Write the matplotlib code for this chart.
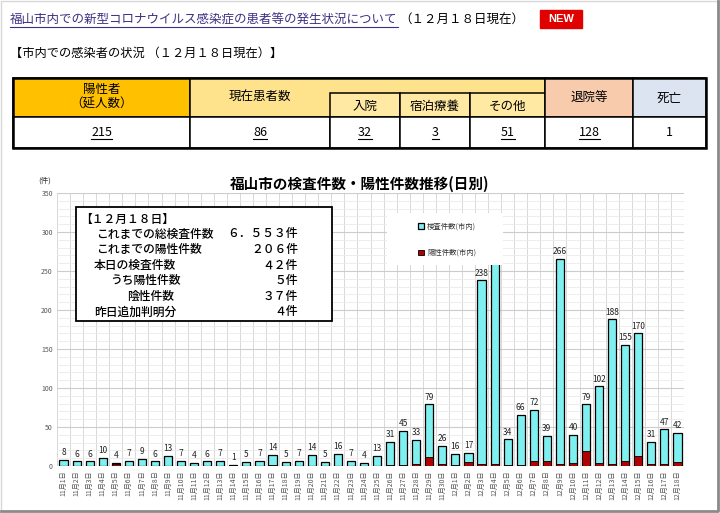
import numpy as np
import matplotlib
matplotlib.use('Agg')
import matplotlib.pyplot as plt
from matplotlib.patches import Rectangle

plt.rcParams['font.family'] = ['Noto Sans CJK JP', 'DejaVu Sans']

# --- data ---
page_title = '福山市内での新型コロナウイルス感染症の患者等の発生状況について'
page_date = '（１２月１８日現在）'
section_title = '【市内での感染者の状況 （１２月１８日現在）】'

summary_labels = ['陽性者\n（延人数）', '現在患者数', '入院', '宿泊療養', 'その他', '退院等', '死亡']
summary_values = [215, 86, 32, 3, 51, 128, 1]

dates = [f'11月{d}日' for d in range(1, 31)] + [f'12月{d}日' for d in range(1, 19)]
tests = [8, 6, 6, 10, 4, 7, 9, 6, 13, 7, 4, 6, 7, 1, 5, 7, 14, 5, 7, 14, 5, 16, 7, 4,
         13, 31, 45, 33, 79, 26, 16, 17, 238, 280, 34, 66, 72, 39, 266, 40, 79, 102,
         188, 155, 170, 31, 47, 42]
positives = [0, 0, 0, 0, 2, 0, 0, 0, 0, 0, 0, 0, 0, 0, 0, 0, 1, 0, 0, 0, 0, 0, 0, 0,
             0, 1, 1, 3, 12, 2, 1, 5, 2, 2, 1, 1, 6, 6, 3, 4, 19, 4, 3, 7, 13, 2, 3, 5]
series_names = ['検査件数(市内)', '陽性件数(市内)']

info_head = '【１２月１８日】'
info_labels = ['これまでの総検査件数', 'これまでの陽性件数', '本日の検査件数',
               'うち陽性件数', '陰性件数', '昨日追加判明分']
info_values = ['６．５５３件', '２０６件', '４２件', '５件', '３７件', '４件']
info_indent = [96, 96, 94, 110, 127, 94]

chart_title = '福山市の検査件数・陽性件数推移(日別)'

W, H = 720, 513
fig = plt.figure(figsize=(W / 100, H / 100), dpi=100)

# background layer in pixel coords
bg = fig.add_axes([0, 0, 1, 1])
bg.set_xlim(0, W)
bg.set_ylim(H, 0)
bg.axis('off')
bg.set_zorder(0)

underlined = []

t1 = bg.text(10, 20, page_title, fontsize=9, color='#3F2F85', va='center', ha='left')
underlined.append(t1)
fig.canvas.draw()
r = fig.canvas.get_renderer()
inv = bg.transData.inverted()
bb = t1.get_window_extent(r)
x_end = inv.transform([[bb.x1, bb.y0]])[0][0]
bg.text(x_end + 2, 20, page_date, fontsize=9, color='black', va='center', ha='left')

bg.add_patch(Rectangle((540, 10), 42, 18, color='#E00000'))
bg.text(561, 19, 'NEW', fontsize=8, color='white', weight='bold', ha='center', va='center',
        family='Liberation Sans')

bg.text(10, 53, section_title, fontsize=8.8, va='center', ha='left')

# table
cols = [13, 190, 330, 400, 470, 545, 633, 706]
r0, r1, r2, r3 = 78, 93, 117, 148
ec = 'black'
bg.add_patch(Rectangle((cols[0], r0), cols[1] - cols[0], r2 - r0, fc='#FFC000', ec=ec, lw=1.1))
bg.add_patch(Rectangle((cols[1], r0), cols[5] - cols[1], r2 - r0, fc='#FFE38C', ec=ec, lw=1.1))
for i in (2, 3, 4):
    bg.add_patch(Rectangle((cols[i], r1), cols[i + 1] - cols[i], r2 - r1, fc='#FFE9A3', ec=ec, lw=1.1))
bg.add_patch(Rectangle((cols[5], r0), cols[6] - cols[5], r2 - r0, fc='#F8CBAD', ec=ec, lw=1.1))
bg.add_patch(Rectangle((cols[6], r0), cols[7] - cols[6], r2 - r0, fc='#DCE4F2', ec=ec, lw=1.1))
for i in range(7):
    bg.add_patch(Rectangle((cols[i], r2), cols[i + 1] - cols[i], r3 - r2, fc='white', ec=ec, lw=1.1))
bg.add_patch(Rectangle((cols[0], r0), cols[7] - cols[0], r3 - r0, fc='none', ec=ec, lw=1.8))

header_y = [97, 97, 106, 106, 106, 98, 98]
for i, (lab, val) in enumerate(zip(summary_labels, summary_values)):
    cx = (cols[i] + cols[i + 1]) / 2
    bg.text(cx, header_y[i], lab, fontsize=9, ha='center', va='center', linespacing=1.1)
    t = bg.text(cx, 132, str(val), fontsize=9, ha='center', va='center')
    if i < 6:
        underlined.append(t)

bg.text(45, 181, '(件)', fontsize=5.5, ha='center', va='center', color='#333333')
bg.text(360, 184, chart_title, fontsize=10.5, weight='bold', ha='center', va='center')

# frame
bg.plot([0.5, 0.5, W - 2], [H - 2, 0.5, 0.5], color='#D8D8D8', lw=1)
bg.plot([1, W - 2, W - 2], [H - 2, H - 2, 1], color='#8A8A8A', lw=2)

# chart
ax = fig.add_axes([57 / W, 47 / H, 627 / W, 273 / H])
ax.set_zorder(1)
ax.set_facecolor('white')
x = np.arange(len(dates))
b1 = ax.bar(x, tests, width=0.62, color='#7FEFEF', edgecolor='black', linewidth=0.9, zorder=2)
b2 = ax.bar(x, positives, width=0.62, color='#B00000', edgecolor='black', linewidth=0.6, zorder=3)
ax.bar_label(b1, padding=2, fontsize=6, color='#222222')

ax.set_xlim(-0.5, len(dates) - 0.5)
ax.set_ylim(0, 350)
ax.set_yticks(range(0, 351, 50))
ax.set_yticks(range(0, 351, 10), minor=True)
ax.set_xticks(x)
ax.set_xticks(np.arange(-0.5, len(dates), 1), minor=True)
ax.set_xticklabels(dates, rotation=90, fontsize=5, color='#555555')
ax.tick_params(axis='y', labelsize=5, labelcolor='#555555')
ax.tick_params(which='both', length=0, pad=3)
ax.set_axisbelow(True)
ax.yaxis.grid(True, which='major', color='#CCCCCC', lw=0.8)
ax.yaxis.grid(True, which='minor', color='#EAEAEA', lw=0.6)
ax.xaxis.grid(True, which='minor', color='#D8D8D8', lw=0.7)
for s in ax.spines.values():
    s.set_visible(False)

ax.add_patch(Rectangle((0.526, 0.736), 0.185, 0.19, transform=ax.transAxes,
                       fc='white', ec='none', zorder=4))
ax.legend([b1, b2], series_names, loc='upper left', bbox_to_anchor=(0.57, 0.905),
          frameon=False, fontsize=5.3, labelspacing=2.5, handlelength=0.8, handleheight=0.8,
          handletextpad=0.4, borderpad=0, labelcolor='#333333')

# info box on top layer
top = fig.add_axes([0, 0, 1, 1], facecolor='none')
top.set_xlim(0, W)
top.set_ylim(H, 0)
top.axis('off')
top.set_zorder(2)
top.add_patch(Rectangle((76, 207), 256, 114, fc='white', ec='black', lw=1.3))
top.text(80, 219, info_head, fontsize=8.5, weight='medium', va='center', ha='left')
for i, (lab, val) in enumerate(zip(info_labels, info_values)):
    yy = 234 + i * 15.6
    top.text(info_indent[i], yy, lab, fontsize=8.5, weight='medium', va='center', ha='left')
    top.text(298, yy, val, fontsize=8.5, weight='medium', va='center', ha='right')

# underline link-like texts
fig.canvas.draw()
r = fig.canvas.get_renderer()
inv = bg.transData.inverted()
for t in underlined:
    bb = t.get_window_extent(r)
    (xa, ya), (xb, yb) = inv.transform([[bb.x0, bb.y0], [bb.x1, bb.y1]])
    bg.plot([xa, xb], [max(ya, yb) + 0.5, max(ya, yb) + 0.5], color=t.get_color(), lw=0.8)

fig.savefig('out.png', dpi=100)
